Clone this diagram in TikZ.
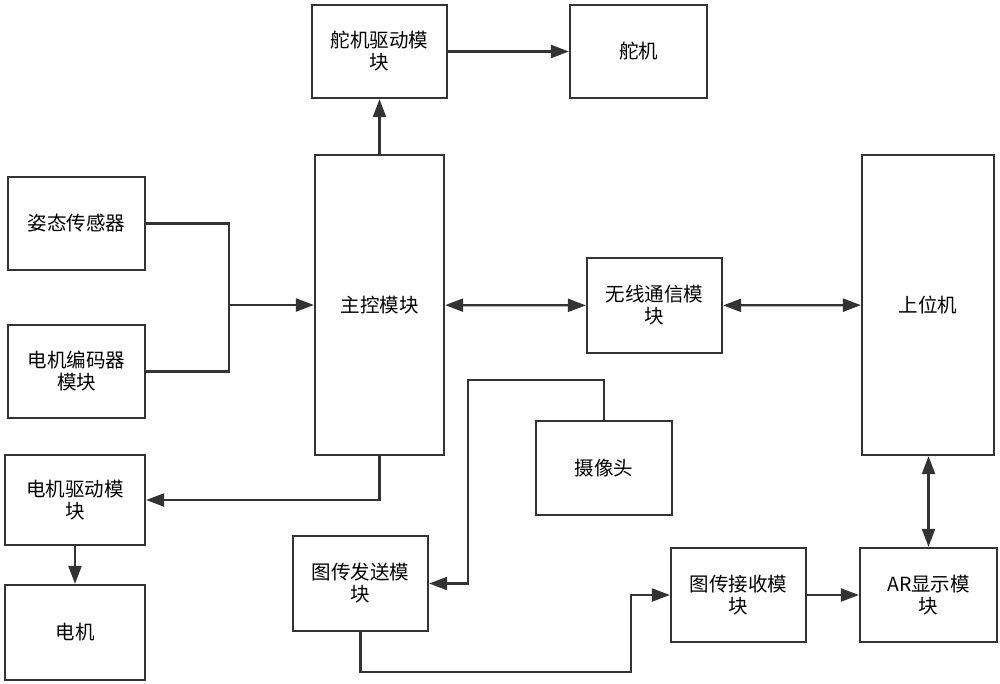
\documentclass[tikz,border=0pt]{standalone}
\usepackage{fontspec}
\setmainfont{Noto Sans CJK SC}
\usetikzlibrary{arrows.meta}
\tikzset{
	module/.style={draw=black!80, line width=2.2pt, inner sep=0pt, align=center, font=\fontsize{19.5}{22}\selectfont},
	link/.style={draw=black!80, line width=2.2pt},
	>={Triangle[length=18pt,width=13pt]}
}
\begin{document}
\begin{tikzpicture}[x=1pt,y=-1pt]
		\useasboundingbox (0,0) rectangle (1000,683);
		\node[module, minimum width=135pt, minimum height=93pt] (servodrv) at (379.5,51.5) {舵机驱动模\\块};
		\node[module, minimum width=137pt, minimum height=93pt] (servo) at (638.5,51.5) {舵机};
		\node[module, minimum width=129pt, minimum height=300pt] (main) at (379.5,305) {主控模块};
		\node[module, minimum width=137pt, minimum height=93pt] (attitude) at (76.5,223.5) {姿态传感器};
		\node[module, minimum width=137pt, minimum height=93pt] (encoder) at (76.5,371.5) {电机编码器\\模块};
		\node[module, minimum width=135pt, minimum height=95pt] (wireless) at (654.5,305.5) {无线通信模\\块};
		\node[module, minimum width=132pt, minimum height=300pt] (host) at (928,305) {上位机};
		\node[module, minimum width=140pt, minimum height=90pt] (motordrv) at (75,500) {电机驱动模\\块};
		\node[module, minimum width=140pt, minimum height=95pt] (motor) at (75,632.5) {电机};
		\node[module, minimum width=136pt, minimum height=94pt] (camera) at (604,468) {摄像头};
		\node[module, minimum width=135pt, minimum height=95pt] (imgtx) at (360.5,583.5) {图传发送模\\块};
		\node[module, minimum width=135pt, minimum height=94pt] (imgrx) at (738.5,595) {图传接收模\\块};
		\node[module, minimum width=137pt, minimum height=94pt] (ar) at (928.5,595) {AR显示模\\块};
		\coordinate (merge) at (229,305);
		\coordinate (camup) at (468,380);
		\coordinate (txdown) at (631,672);
		\draw[link,->] (servodrv) -- (servo);
		\draw[link,->] (main) -- (servodrv);
		\draw[link] (attitude.east) -| (merge) |- (encoder.east);
		\draw[link,->] (merge) -- (main.west);
		\draw[link,<->] (main) -- (wireless);
		\draw[link,<->] (wireless) -- (host);
		\draw[link,->] (main.south) |- (motordrv.east);
		\draw[link,->] (motordrv) -- (motor);
		\draw[link,->] (camera.north) |- (camup) |- (imgtx.east);
		\draw[link,->] (imgtx.south) |- (txdown) |- (imgrx.west);
		\draw[link,->] (imgrx) -- (ar);
		\draw[link,<->] (ar.north) -- (ar.north |- host.south);
		\end{tikzpicture}
\end{document}
